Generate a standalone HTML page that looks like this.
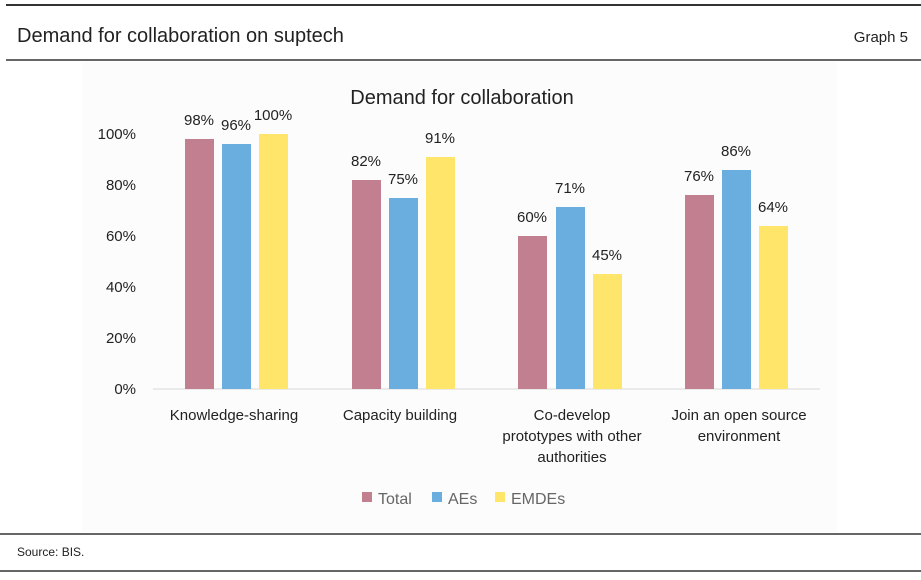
<!DOCTYPE html><html><head><style>body{margin:0;background:#fff;}svg text{font-family:"Liberation Sans",sans-serif;}</style></head><body>
<svg width="921" height="575" xmlns="http://www.w3.org/2000/svg">
<rect width="921" height="575" fill="#fff"/>
<rect x="82" y="62" width="755" height="470" fill="#fcfcfc"/>
<line x1="6" y1="5" x2="921" y2="5" stroke="#333" stroke-width="2"/>
<line x1="6" y1="60" x2="921" y2="60" stroke="#333" stroke-width="1.5"/>
<line x1="0" y1="534" x2="921" y2="534" stroke="#333" stroke-width="1.5"/>
<line x1="0" y1="571" x2="921" y2="571" stroke="#333" stroke-width="1.5"/>
<text x="17" y="42" font-size="20" fill="#222">Demand for collaboration on suptech</text>
<text x="908" y="42" font-size="15" fill="#222" text-anchor="end">Graph 5</text>
<text x="17" y="556" font-size="12" fill="#222">Source: BIS.</text>
<text x="462" y="104" font-size="20" fill="#222" text-anchor="middle">Demand for collaboration</text>
<g font-size="15" fill="#222" text-anchor="end">
<text x="136" y="139">100%</text><text x="136" y="190">80%</text><text x="136" y="241">60%</text><text x="136" y="292">40%</text><text x="136" y="343">20%</text><text x="136" y="394">0%</text></g>
<line x1="153" y1="389" x2="820" y2="389" stroke="#d9d9d9" stroke-width="1"/>
<g>
<rect x="185" y="139" width="29" height="250" fill="#c17f8f"/><rect x="222" y="144" width="29" height="245" fill="#6aaee0"/><rect x="259" y="134" width="29" height="255" fill="#ffe66a"/>
<rect x="352" y="180" width="29" height="209" fill="#c17f8f"/><rect x="389" y="198" width="29" height="191" fill="#6aaee0"/><rect x="426" y="157" width="29" height="232" fill="#ffe66a"/>
<rect x="518" y="236" width="29" height="153" fill="#c17f8f"/><rect x="556" y="207" width="29" height="182" fill="#6aaee0"/><rect x="593" y="274" width="29" height="115" fill="#ffe66a"/>
<rect x="685" y="195" width="29" height="194" fill="#c17f8f"/><rect x="722" y="170" width="29" height="219" fill="#6aaee0"/><rect x="759" y="226" width="29" height="163" fill="#ffe66a"/>
</g>
<g font-size="15" fill="#222" text-anchor="middle">
<text x="199" y="125">98%</text><text x="236" y="130">96%</text><text x="273" y="120">100%</text>
<text x="366" y="166">82%</text><text x="403" y="184">75%</text><text x="440" y="143">91%</text>
<text x="532" y="222">60%</text><text x="570" y="193">71%</text><text x="607" y="260">45%</text>
<text x="699" y="181">76%</text><text x="736" y="156">86%</text><text x="773" y="212">64%</text>
<text x="234" y="420">Knowledge-sharing</text><text x="400" y="420">Capacity building</text>
<text x="572" y="420">Co-develop</text><text x="572" y="441">prototypes with other</text><text x="572" y="462">authorities</text>
<text x="739" y="420">Join an open source</text><text x="739" y="441">environment</text>
</g>
<g font-size="16" fill="#666">
<rect x="362" y="492" width="10" height="10" fill="#c17f8f"/><text x="378" y="504">Total</text>
<rect x="432" y="492" width="10" height="10" fill="#6aaee0"/><text x="448" y="504">AEs</text>
<rect x="495" y="492" width="10" height="10" fill="#ffe66a"/><text x="511" y="504">EMDEs</text>
</g>
</svg></body></html>
